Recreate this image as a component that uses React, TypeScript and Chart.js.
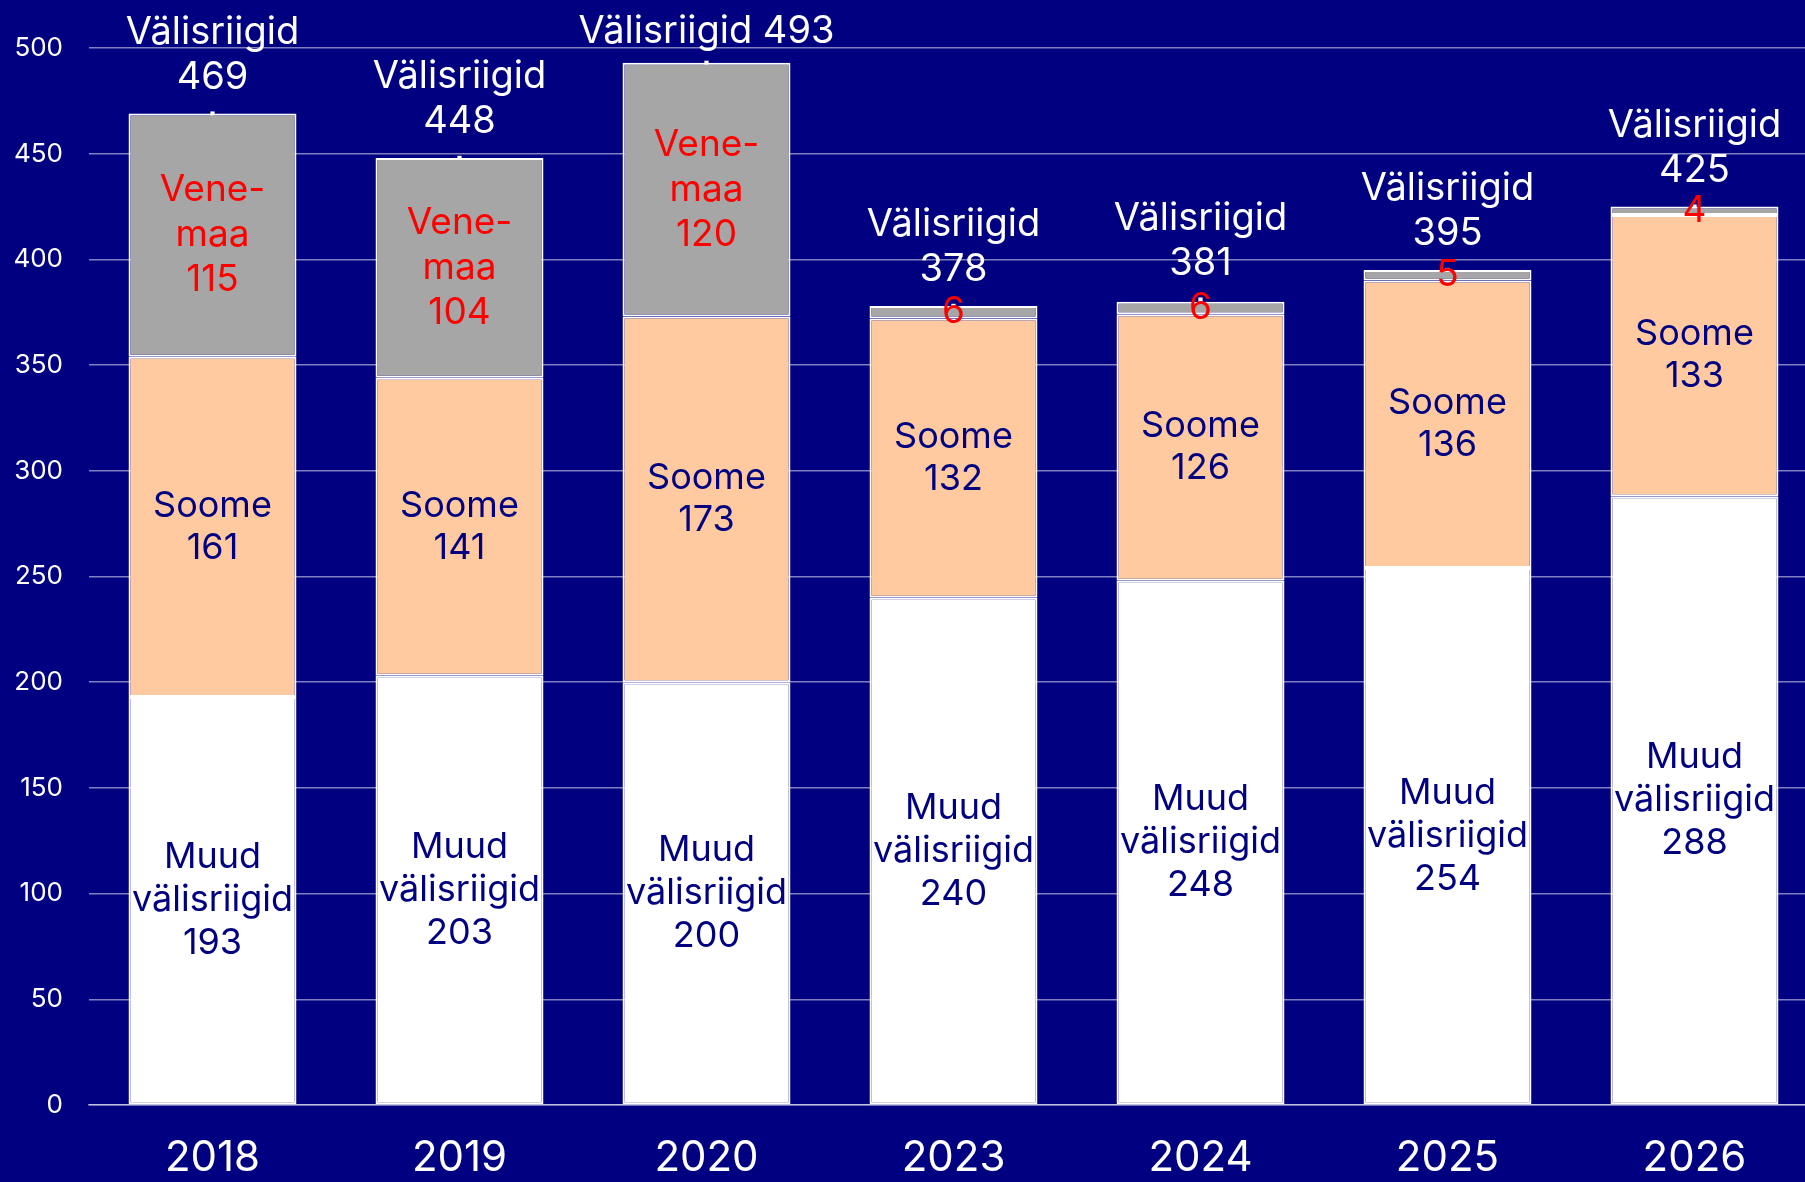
import React, { useEffect, useRef } from "react";
import { Chart, registerables } from "chart.js";

Chart.register(...registerables);

const categories = ["2018", "2019", "2020", "2023", "2024", "2025", "2026"];
const muudValues = [193, 203, 200, 240, 248, 254, 288];
const soomeValues = [161, 141, 173, 132, 126, 136, 133];
const venemaaValues = [115, 104, 120, 6, 6, 5, 4];
const totalValues = [469, 448, 493, 378, 381, 395, 425];

const NAVY = "#000080";
const PEACH = "#FFCA9F";
const GRAY = "#A6A6A6";
const GRID = "rgba(255,255,255,0.5)";
const FONT = "Inter, 'Noto Sans', sans-serif";

const labelPlugin = {
  id: "segmentLabels",
  afterDatasetsDraw(chart: any) {
    const ctx = chart.ctx;
    ctx.save();
    ctx.textAlign = "center";
    ctx.textBaseline = "middle";
    const drawLines = (lines: string[], x: number, cy: number, lh: number) => {
      const start = cy - ((lines.length - 1) * lh) / 2;
      lines.forEach((l, i) => ctx.fillText(l, x, start + i * lh));
    };
    // Muud välisriigid
    ctx.font = `36px ${FONT}`;
    ctx.fillStyle = NAVY;
    chart.getDatasetMeta(0).data.forEach((el: any, j: number) => {
      const p = el.getProps(["x", "y", "base"], true);
      drawLines(["Muud", "välisriigid", String(muudValues[j])], p.x, (p.y + p.base) / 2, 43);
    });
    // Soome
    chart.getDatasetMeta(1).data.forEach((el: any, j: number) => {
      const p = el.getProps(["x", "y", "base"], true);
      drawLines(["Soome", String(soomeValues[j])], p.x, (p.y + p.base) / 2, 42);
    });
    // Venemaa
    ctx.fillStyle = "#FF0000";
    ctx.font = `37px ${FONT}`;
    chart.getDatasetMeta(2).data.forEach((el: any, j: number) => {
      const p = el.getProps(["x", "y", "base"], true);
      const v = venemaaValues[j];
      const lines = v > 20 ? ["Vene-", "maa", String(v)] : [String(v)];
      drawLines(lines, p.x, (p.y + p.base) / 2, 45);
    });
    // Totals
    ctx.fillStyle = "#FFFFFF";
    ctx.font = `38px ${FONT}`;
    chart.getDatasetMeta(3).data.forEach((el: any, j: number) => {
      const p = el.getProps(["x", "y"], true);
      const t = totalValues[j];
      const single = t > 480;
      const lines = single ? [`Välisriigid ${t}`] : ["Välisriigid", String(t)];
      const lh = 45;
      const bottom = p.y - (single ? 31 : 36);
      lines.forEach((l, i) => ctx.fillText(l, p.x, bottom - (lines.length - 1 - i) * lh));
    });
    ctx.restore();
  },
};

export default function App() {
  const ref = useRef<HTMLCanvasElement | null>(null);
  useEffect(() => {
    document.body.style.margin = "0";
    document.body.style.overflow = "hidden";
    document.body.style.background = NAVY;
    const barCommon = {
      borderColor: "#FFFFFF",
      borderWidth: 2,
      borderSkipped: false,
      categoryPercentage: 1,
      barPercentage: 0.68,
      stack: "bars",
    };
    const chart = new Chart(ref.current as HTMLCanvasElement, {
      type: "bar",
      data: {
        labels: categories,
        datasets: [
          { ...barCommon, label: "Muud välisriigid", data: muudValues, backgroundColor: "#FFFFFF" } as any,
          { ...barCommon, label: "Soome", data: soomeValues, backgroundColor: PEACH } as any,
          { ...barCommon, label: "Venemaa", data: venemaaValues, backgroundColor: GRAY } as any,
          {
            type: "line",
            label: "Välisriigid",
            data: totalValues,
            showLine: false,
            stack: "total",
            pointStyle: "rect",
            pointRadius: 3,
            pointBackgroundColor: "#FFFFFF",
            pointBorderWidth: 0,
            borderColor: "#FFFFFF",
          } as any,
        ],
      },
      options: {
        animation: false,
        responsive: true,
        maintainAspectRatio: false,
        layout: { padding: { top: 48, left: 0, right: 0, bottom: 0 } },
        plugins: { legend: { display: false }, tooltip: { enabled: false } },
        scales: {
          x: {
            stacked: true,
            grid: { display: false },
            border: { display: true, color: GRID, width: 1.5 },
            ticks: { color: "#FFFFFF", font: { family: FONT, size: 42 }, padding: 20 },
            afterFit: (s: any) => {
              s.height = 77;
            },
          },
          y: {
            stacked: true,
            min: 0,
            max: 500,
            ticks: { stepSize: 50, color: "#FFFFFF", font: { family: FONT, size: 26 }, padding: 26 },
            grid: { color: GRID, lineWidth: 1.5, drawTicks: false },
            border: { display: false },
            afterFit: (s: any) => {
              s.width = 89;
            },
          },
        },
      },
      plugins: [labelPlugin],
    });
    return () => chart.destroy();
  }, []);
  return (
    <div style={{ width: "1822px", height: "1182px", background: NAVY, position: "relative" }}>
      <canvas ref={ref} />
    </div>
  );
}
